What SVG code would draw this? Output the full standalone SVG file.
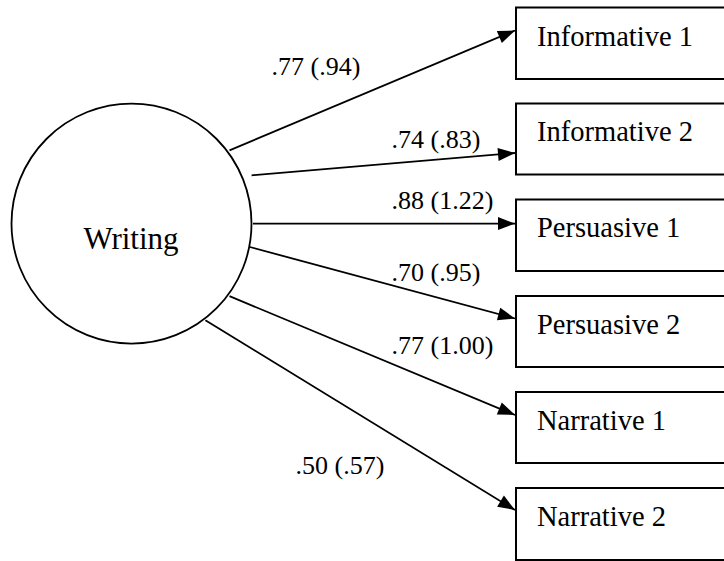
<svg xmlns="http://www.w3.org/2000/svg" width="724" height="561" viewBox="0 0 724 561">
<style>
.box{fill:#fff;stroke:#000;stroke-width:2}
.node-text{font-family:"Liberation Serif","Times New Roman",serif;font-size:28.5px;fill:#000}
.lbl{font-family:"Liberation Serif","Times New Roman",serif;font-size:26px;fill:#000}
.conn{stroke:#000;stroke-width:1.8;fill:none;marker-end:url(#arr)}
</style>
<defs>
<marker id="arr" markerUnits="userSpaceOnUse" markerWidth="18" markerHeight="14" refX="17" refY="6.5" orient="auto" overflow="visible">
<path d="M0,0 L17,6.5 L0,13 z" fill="#000"/>
</marker>
</defs>
<rect width="724" height="561" fill="#fff"/>
<g id="writing">
<circle cx="131.5" cy="223.6" r="120" fill="#fff" stroke="#000" stroke-width="1.8"/>
<text x="131" y="249" text-anchor="middle" font-family="Liberation Serif, Times New Roman, serif" font-size="31">Writing</text>
</g>
<g id="informative1"><rect class="box" x="516" y="7.5" width="220" height="71.5"/><text class="node-text" x="537" y="45.5">Informative 1</text></g>
<g id="informative2"><rect class="box" x="516" y="103.5" width="220" height="71"/><text class="node-text" x="537" y="141">Informative 2</text></g>
<g id="persuasive1"><rect class="box" x="516" y="199.5" width="220" height="71.5"/><text class="node-text" x="537" y="237">Persuasive 1</text></g>
<g id="persuasive2"><rect class="box" x="516" y="296" width="220" height="71"/><text class="node-text" x="537" y="333.5">Persuasive 2</text></g>
<g id="narrative1"><rect class="box" x="516" y="392" width="220" height="71"/><text class="node-text" x="537" y="429.5">Narrative 1</text></g>
<g id="narrative2"><rect class="box" x="516" y="488" width="220" height="72"/><text class="node-text" x="537" y="525.5">Narrative 2</text></g>
<g id="connectors">
<line class="conn" x1="229.5" y1="150.3" x2="515" y2="30.5"/>
<line class="conn" x1="251.6" y1="175.3" x2="515" y2="153"/>
<line class="conn" x1="253" y1="223.6" x2="515" y2="223.6"/>
<line class="conn" x1="249.8" y1="247" x2="515" y2="318.5"/>
<line class="conn" x1="229.5" y1="296.2" x2="515" y2="415"/>
<line class="conn" x1="205.4" y1="320.2" x2="515" y2="510"/>
<text class="lbl" x="271.5" y="75">.77 (.94)</text>
<text class="lbl" x="391.5" y="148">.74 (.83)</text>
<text class="lbl" x="391.5" y="208.5">.88 (1.22)</text>
<text class="lbl" x="391.5" y="281">.70 (.95)</text>
<text class="lbl" x="391.5" y="353.5">.77 (1.00)</text>
<text class="lbl" x="295.5" y="474">.50 (.57)</text>
</g>
</svg>
